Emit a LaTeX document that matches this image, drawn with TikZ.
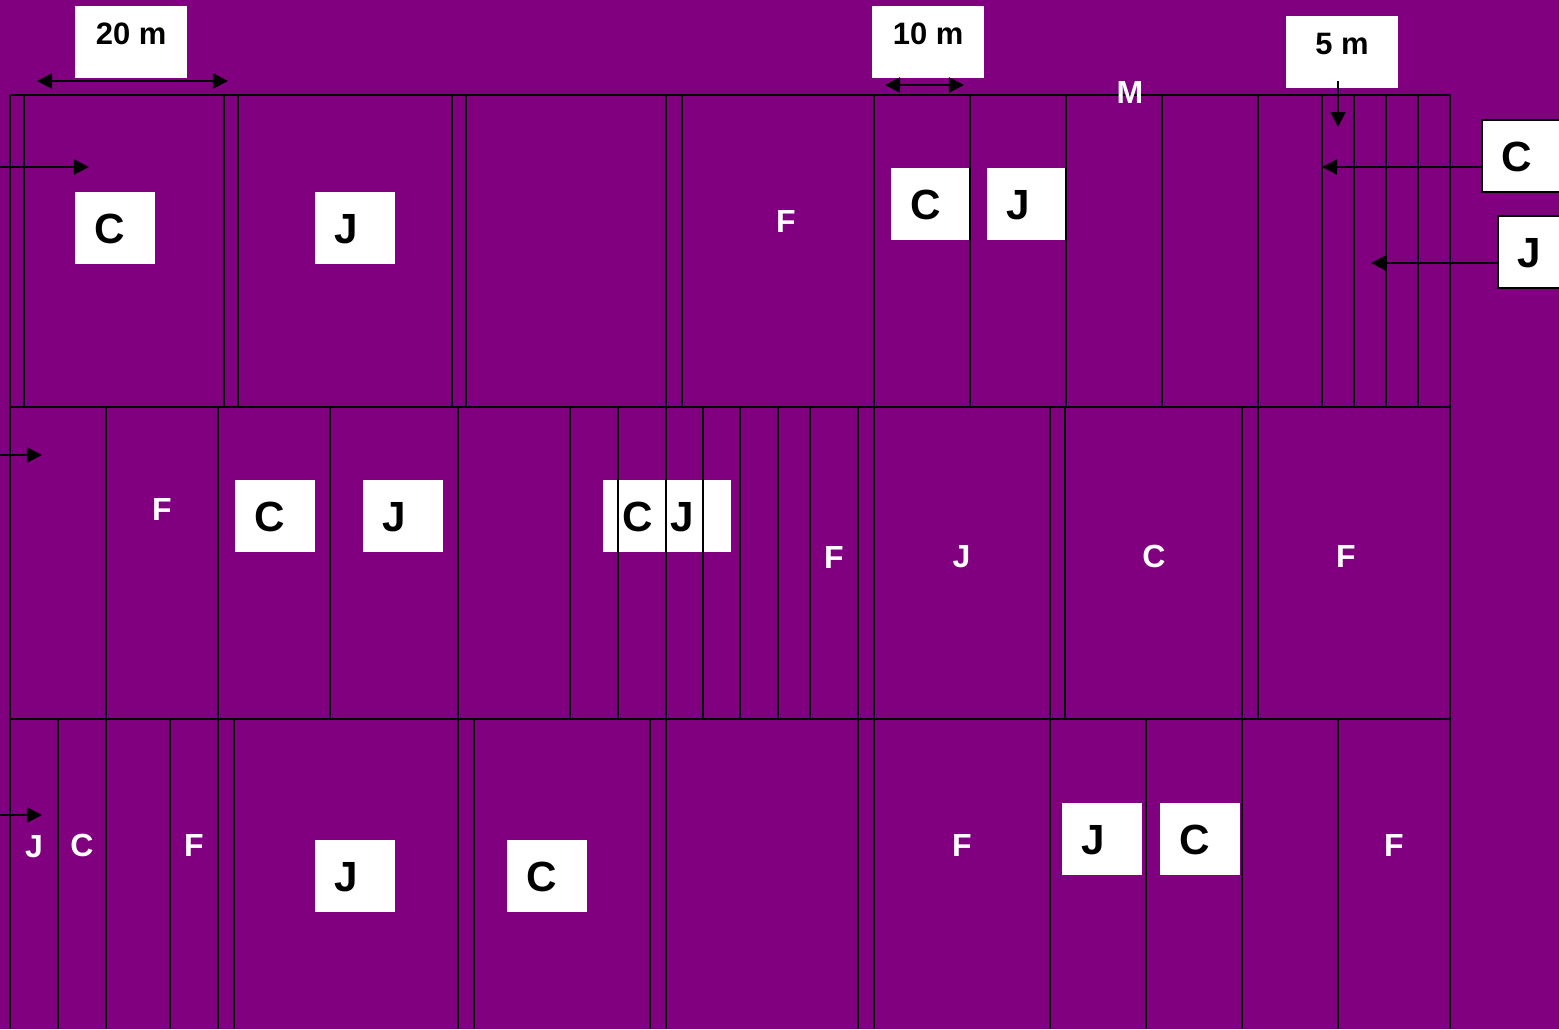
\documentclass[tikz,border=0pt]{standalone}
\usepackage{fontspec}
\setmainfont{Liberation Sans}
\usetikzlibrary{arrows.meta,positioning}
\definecolor{fieldpurple}{HTML}{800080}

\begin{document}
\begin{tikzpicture}[x=0.01cm, y=-0.01cm, line width=0.6pt]
\tikzset{
  tag/.style={fill=white, inner sep=0pt, inner xsep=0.19cm, text width=0.42cm, align=left,
    minimum height=0.72cm, text height=0.31cm, text depth=0pt,
    font=\bfseries\fontsize{12}{14}\selectfont, anchor=north west},
  scalebox/.style={fill=white, inner sep=0pt, minimum width=1.12cm, minimum height=0.72cm,
    text height=0.22cm, text depth=0.17cm, font=\bfseries\fontsize{8.8}{10}\selectfont, anchor=north west},
  field/.style={text=white, inner sep=0pt, text height=0.23cm, text depth=0pt,
    font=\bfseries\fontsize{9.1}{10}\selectfont},
  arr/.style={-{Triangle[length=0.15cm, width=0.15cm]}},
  dimarr/.style={{Triangle[length=0.15cm, width=0.15cm]}-{Triangle[length=0.15cm, width=0.15cm]}}
}
\fill[fieldpurple] (0,0) rectangle (1559,1029);
\useasboundingbox (0,0) rectangle (1559,1029);
\clip (0,0) rectangle (1559,1029);

% scale boxes
\node[scalebox] (s20) at (74,5) {20 m};
\node[scalebox] (s10) at (871,5) {10 m};
\node[scalebox] (s5) at (1285,15) {5 m};

% white tags
\node[tag] (c1) at (74,191) {C};
\node[tag] (j1) at (314,191) {J};
\node[tag] (c2) at (890,167) {C};
\node[tag] (j2) at (986,167) {J};
\node[tag, draw=black] (cR) at (1481,119) {C};
\node[tag, draw=black] (jR) at (1497,215) {J};
\node[tag] (c3) at (234,479) {C};
\node[tag] (j3) at (362,479) {J};
\node[tag] (c4) at (602,479) {C};
\node[tag] (j4) at (650,479) {J};
\node[tag] (j5) at (314,839) {J};
\node[tag] (c5) at (506,839) {C};
\node[tag] (j6) at (1061,802) {J};
\node[tag] (c6) at (1159,802) {C};

% rows
\foreach \y in {95,407,719}
  \draw (10,\y) -- (1450,\y);
\foreach \x in {10,24,224,238,452,466,666,682,874,970,1066,1162,1258,1322,1354,1386,1418,1450}
  \draw (\x,95) -- (\x,407);
\foreach \x in {10,106,218,330,458,570,618,666,703,740,778,810,858,874,1050,1065,1242,1258,1450}
  \draw (\x,407) -- (\x,719);
\foreach \x in {10,58,106,170,218,234,458,474,650,666,858,874,1050,1146,1242,1338,1450}
  \draw (\x,719) -- (\x,1029);

% dimensions and arrows
\coordinate (d20a) at (37,81);
\coordinate (d20b) at (228,81);
\coordinate (d10a) at (885,85);
\coordinate (d10b) at (964,85);
\coordinate (d5) at (1338,127);
\coordinate (in1) at (89,167);
\coordinate (in2) at (42,455);
\coordinate (in3) at (42,815);
\coordinate (cTip) at (1322,167);
\coordinate (jTip) at (1371,263);
\draw[dimarr] (d20a) -- (d20b);
\draw[dimarr] (d10a) -- (d10b);
\draw[arr] ([yshift=0.08cm]d5 |- s5.south) -- (d5);
\draw[arr] (0,167) -- (in1);
\draw[arr] (0,455) -- (in2);
\draw[arr] (0,815) -- (in3);
\draw[arr] (cR.west |- cTip) -- (cTip);
\draw[arr] (jR.west |- jTip) -- (jTip);

% field letters
\node[field] (m) at (1130,91.5) {M};
\node[field] (f1) at (786,220.5) {F};
\node[field] (f2) at (162,508.5) {F};
\node[field] (f3) at (834,556.5) {F};
\node[field] (jj2) at (961.5,556) {J};
\node[field] (cc2) at (1154,556) {C};
\node[field] (f4) at (1346,556) {F};
\node[field] (jj3) at (34,846) {J};
\node[field] (cc3) at (82,845) {C};
\node[field] (f5) at (194,845) {F};
\node[field] (f6) at (962,845) {F};
\node[field] (f7) at (1394,845) {F};
\end{tikzpicture}
\end{document}
